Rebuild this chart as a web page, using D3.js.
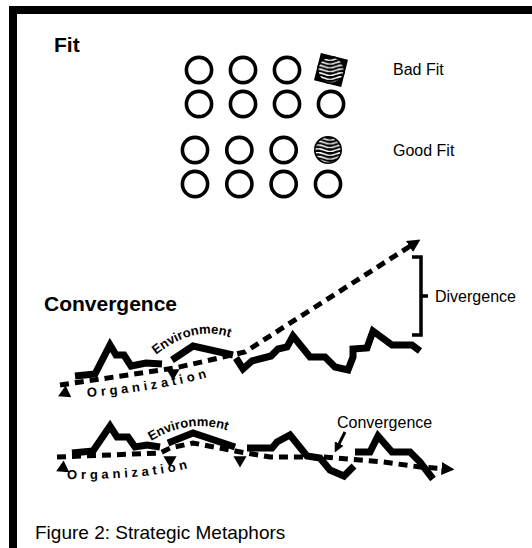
<!DOCTYPE html>
<html>
<head>
<meta charset="utf-8">
<script src="https://cdn.jsdelivr.net/npm/d3@7"></script>
<style>
body { margin: 0; background: #fff; }
svg { display: block; }
text { font-family: "Liberation Sans", Arial, sans-serif; fill: #000; }
</style>
</head>
<body>
<svg id="fig"></svg>
<script>
// ---- fit grid
const fitGroups = ['Bad Fit', 'Good Fit']
const fitCols = [0, 1, 2, 3]
const fitRows = [0, 1]
const oddCol = 3   // striped circle sits in this column, first row of each group

// ---- divergence panel (x = time, y = level)
const envTop = [
  [[25,24],[45,26],[60,55],[66,45],[74,45],[81,34],[96,37],[112,36]],
  [[122,40],[143,54],[183,45]],
  [[186,42],[193,31],[202,39],[221,44],[228,51],[237,53],[243,64],[260,43],[275,43],[285,33],[298,30],[303,43],[303,51],[317,52],[323,69],[342,55],[362,55],[370,49]]
]
const orgTop = [[10,15],[125,32],[195,48],[365,157]]
const orgTopTicks = [[123,27]]
const orgTopStart = [15,7]
const divRange = [143, 65]

// ---- convergence panel
const envBot = [
  [[22,37],[43,39],[60,64],[67,53],[78,53],[85,43],[97,45],[110,43]],
  [[118,47],[143,57],[185,43]],
  [[197,42],[222,42],[227,48],[240,55],[257,34],[270,32],[280,20],[294,14],[304,24]],
  [[305,38],[320,38],[328,54],[342,38],[360,38],[370,28],[383,11]]
]
const orgBot = [[7,33],[110,37],[120,42],[143,47],[185,39],[220,33],[273,33],[333,28],[370,23],[398,21]]
const orgBotTicks = [[120,30],[190,30]]
const orgBotStart = [13,22]
const convArrow = [[295,58],[287,42]]

const W = 532, H = 548
const svg = d3.select('#fig').attr('width', W).attr('height', H)

const defs = svg.append('defs')
defs.append('marker').attr('id', 'arr')
  .attr('viewBox', '0 0 10 10').attr('refX', 5).attr('refY', 5)
  .attr('markerUnits', 'userSpaceOnUse').attr('markerWidth', 13).attr('markerHeight', 13)
  .attr('orient', 'auto')
  .append('path').attr('d', 'M0,0L10,5L0,10z').attr('fill', '#000')
defs.append('marker').attr('id', 'arrSmall')
  .attr('viewBox', '0 0 10 10').attr('refX', 5).attr('refY', 5)
  .attr('markerUnits', 'userSpaceOnUse').attr('markerWidth', 10).attr('markerHeight', 10)
  .attr('orient', 'auto')
  .append('path').attr('d', 'M0,0L10,5L0,10z').attr('fill', '#000')

// wavy stripes for the odd circles
const wave = defs.append('pattern').attr('id', 'wave')
  .attr('patternUnits', 'userSpaceOnUse').attr('width', 24).attr('height', 3.8)
wave.append('rect').attr('width', 24).attr('height', 3.8).attr('fill', '#000')
wave.append('path').attr('d', 'M0,1.9 C6,-0.2 6,-0.2 12,1.9 S18,4 24,1.9')
  .attr('fill', 'none').attr('stroke', '#fff').attr('stroke-width', 1.5)

// frame
svg.append('rect').attr('x', 9).attr('y', 6).attr('width', W - 9).attr('height', 8)
svg.append('rect').attr('x', 9).attr('y', 6).attr('width', 8).attr('height', H - 6)

// ================= Fit
svg.append('text').attr('x', 54).attr('y', 52)
  .style('font-size', '21px').style('font-weight', 'bold').text('Fit')

const fitX = d3.scaleLinear().domain([0, 3])
const fitY = d3.scaleOrdinal().domain(fitGroups).range([70, 150])
const fitXRange = { 'Bad Fit': [199, 331], 'Good Fit': [195, 328] }
const labelDy = { 'Bad Fit': 5, 'Good Fit': 6 }
const rowGap = 34

fitGroups.forEach(g => {
  const x = fitX.copy().range(fitXRange[g])
  const cells = []
  fitRows.forEach(r => fitCols.forEach(c => cells.push({ r, c })))
  const gg = svg.append('g')
  cells.forEach(d => {
    const cx = x(d.c), cy = fitY(g) + d.r * rowGap
    const odd = d.r === 0 && d.c === oddCol
    if (odd && g === 'Bad Fit') {
      gg.append('rect').attr('x', cx - 14).attr('y', cy - 14)
        .attr('width', 28).attr('height', 28).attr('fill', '#000')
        .attr('transform', `rotate(14,${cx},${cy})`)
    }
    gg.append('circle').attr('cx', cx).attr('cy', cy).attr('r', odd ? 13.2 : 12.6)
      .attr('fill', odd ? 'url(#wave)' : 'none')
      .attr('stroke', '#000').attr('stroke-width', odd ? 1.6 : 3.6)
  })
  svg.append('text').attr('x', 393).attr('y', fitY(g) + labelDy[g])
    .style('font-size', '16px').text(g)
})

// ================= shared x
const x = d3.scaleLinear().domain([0, 400]).range([50, 450])
const yTop = d3.scaleLinear().domain([0, 160]).range([400, 240])
const yBot = d3.scaleLinear().domain([0, 80]).range([490, 410])

const envStyle = sel => sel.attr('fill', 'none').attr('stroke', '#000')
  .attr('stroke-width', 7).attr('stroke-linejoin', 'miter').attr('stroke-miterlimit', 6)
const orgStyle = sel => sel.attr('fill', 'none').attr('stroke', '#000')
  .attr('stroke-width', 5).attr('stroke-dasharray', '9,6').attr('marker-end', 'url(#arr)')

const tri = d3.symbol().type(d3.symbolTriangle).size(75)

function curvePath(pts, y) {
  const p = d3.path()
  p.moveTo(x(pts[0][0]), y(pts[0][1]))
  p.quadraticCurveTo(x(pts[1][0]), y(pts[1][1]), x(pts[2][0]), y(pts[2][1]))
  return p.toString()
}

function panel(env, org, ticks, start, y, id, envCurve, orgCurve) {
  const line = d3.line().x(d => x(d[0])).y(d => y(d[1]))
  const g = svg.append('g')
  g.selectAll('path.env').data(env).enter().append('path')
    .attr('class', 'env').attr('d', line).call(envStyle)
  g.append('path').attr('d', line(org)).call(orgStyle)
  g.selectAll('path.tick').data(ticks).enter().append('path')
    .attr('class', 'tick').attr('d', tri)
    .attr('transform', d => `translate(${x(d[0])},${y(d[1])}) rotate(180)`)
  g.append('path').attr('d', tri)
    .attr('transform', `translate(${x(start[0])},${y(start[1])}) rotate(245)`)

  defs.append('path').attr('id', 'env' + id).attr('d', curvePath(envCurve, y))
  defs.append('path').attr('id', 'org' + id).attr('d', curvePath(orgCurve, y))
  g.append('text').style('font-size', '13px').style('font-weight', 'bold')
    .append('textPath').attr('href', '#env' + id).text('Environment')
  g.append('text').style('font-size', '13px').style('font-weight', 'bold')
    .style('letter-spacing', '3.8px')
    .append('textPath').attr('href', '#org' + id).text('Organization')
}

// ================= Divergence panel
svg.append('text').attr('x', 44).attr('y', 311)
  .style('font-size', '21px').style('font-weight', 'bold').text('Convergence')

panel(envTop, orgTop, orgTopTicks, orgTopStart, yTop, 'T',
  [[106,45],[152,82],[196,55]], [[37,3],[112,9],[165,25]])

// bracket
const bx = x(362), bx2 = x(371)
const b = d3.path()
b.moveTo(bx, yTop(divRange[0])); b.lineTo(bx2, yTop(divRange[0]))
b.lineTo(bx2, yTop(divRange[1])); b.lineTo(bx, yTop(divRange[1]))
const bMid = (yTop(divRange[0]) + yTop(divRange[1])) / 2
b.moveTo(bx2, bMid); b.lineTo(bx2 + 7, bMid)
svg.append('path').attr('d', b.toString()).attr('fill', 'none')
  .attr('stroke', '#000').attr('stroke-width', 3.5)
svg.append('text').attr('x', bx2 + 14).attr('y', bMid + 6)
  .style('font-size', '16px').text('Divergence')

// ================= Convergence panel
panel(envBot, orgBot, orgBotTicks, orgBotStart, yBot, 'B',
  [[101,49],[146,76],[191,54]], [[17,11],[100,10],[146,24]])

svg.append('path')
  .attr('d', d3.line().x(d => x(d[0])).y(d => yBot(d[1]))(convArrow))
  .attr('stroke', '#000').attr('stroke-width', 3).attr('marker-end', 'url(#arrSmall)')
svg.append('text').attr('x', x(287)).attr('y', 428)
  .style('font-size', '16px').text('Convergence')

// caption
svg.append('text').attr('x', 35).attr('y', 539)
  .style('font-size', '19px').text('Figure 2: Strategic Metaphors')
</script>
</body>
</html>
